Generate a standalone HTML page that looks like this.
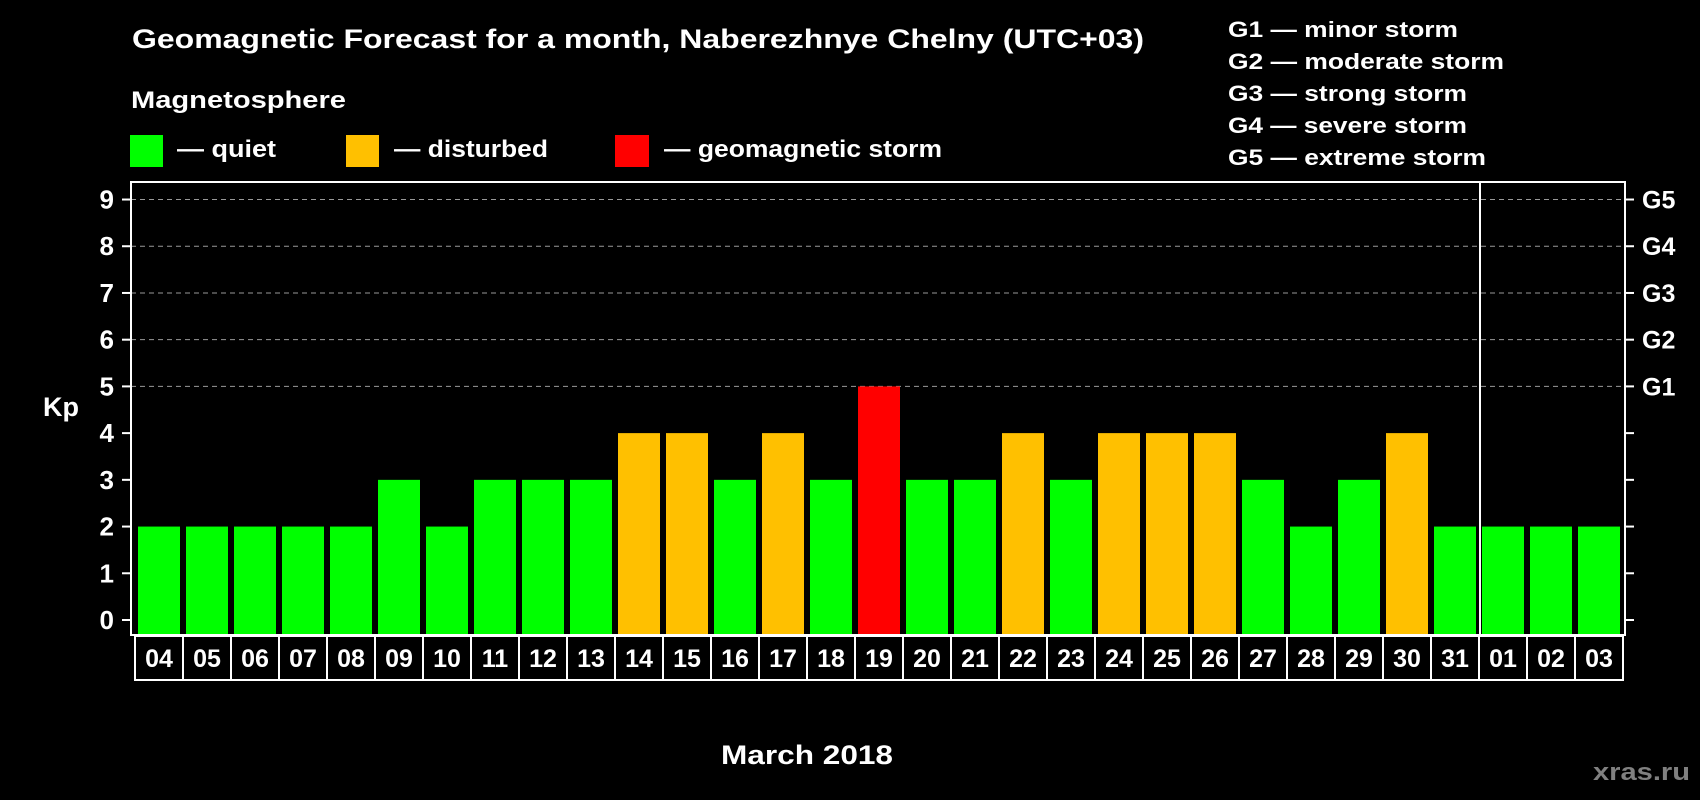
<!DOCTYPE html>
<html><head><meta charset="utf-8"><style>
html,body{margin:0;padding:0;background:#000;}
svg{display:block;font-family:"Liberation Sans",Arial,sans-serif;font-weight:bold;}
</style></head><body>
<svg id="chart" width="1700" height="800" viewBox="0 0 1700 800" xmlns="http://www.w3.org/2000/svg">
<rect x="0" y="0" width="1700" height="800" fill="#000"/>
<text x="132" y="48" fill="#fff" font-size="27" textLength="1012" lengthAdjust="spacingAndGlyphs">Geomagnetic Forecast for a month, Naberezhnye Chelny (UTC+03)</text>
<text x="131" y="108" fill="#fff" font-size="24" textLength="215" lengthAdjust="spacingAndGlyphs">Magnetosphere</text>
<g>
<rect x="130" y="135" width="33" height="32" fill="#00ff00"/>
<text x="177" y="157" fill="#fff" font-size="24" textLength="99" lengthAdjust="spacingAndGlyphs">— quiet</text></g>
<g>
<rect x="346" y="135" width="33" height="32" fill="#ffc000"/>
<text x="394" y="157" fill="#fff" font-size="24" textLength="154" lengthAdjust="spacingAndGlyphs">— disturbed</text></g>
<g>
<rect x="615" y="135" width="34" height="32" fill="#ff0000"/>
<text x="664" y="157" fill="#fff" font-size="24" textLength="278" lengthAdjust="spacingAndGlyphs">— geomagnetic storm</text></g>
<g fill="#fff" font-size="22">
<text x="1228" y="37" textLength="230" lengthAdjust="spacingAndGlyphs">G1 — minor storm</text>
<text x="1228" y="69" textLength="276" lengthAdjust="spacingAndGlyphs">G2 — moderate storm</text>
<text x="1228" y="101" textLength="239" lengthAdjust="spacingAndGlyphs">G3 — strong storm</text>
<text x="1228" y="133" textLength="239" lengthAdjust="spacingAndGlyphs">G4 — severe storm</text>
<text x="1228" y="165" textLength="258" lengthAdjust="spacingAndGlyphs">G5 — extreme storm</text>
</g>
<text x="43" y="416" fill="#fff" font-size="27">Kp</text>
<text x="721" y="764" fill="#fff" font-size="27" textLength="172" lengthAdjust="spacingAndGlyphs">March 2018</text>
<text x="1593" y="780" fill="#808080" font-size="24" textLength="97" lengthAdjust="spacingAndGlyphs">xras.ru</text>
<g id="grid"></g><g id="bars"></g><g id="axes"></g>
</svg>
<script>
const days = ["04","05","06","07","08","09","10","11","12","13","14","15","16","17","18","19","20","21","22","23","24","25","26","27","28","29","30","31","01","02","03"];
const kpValues = [2,2,2,2,2,3,2,3,3,3,4,4,3,4,3,5,3,3,4,3,4,4,4,3,2,3,4,2,2,2,2];
const yTicks = [0,1,2,3,4,5,6,7,8,9];
const gLabels = ["G1","G2","G3","G4","G5"];
const gLevels = [5,6,7,8,9];
const monthBreakIndex = 28;

const NS = "http://www.w3.org/2000/svg";
const plotL = 131, plotR = 1625, plotT = 182, plotB = 635;
const y = v => 620 - v * 46.72;
const xCell = i => 135 + i * 48;
function mk(tag, attrs, parent) {
  const e = document.createElementNS(NS, tag);
  for (const k in attrs) e.setAttribute(k, attrs[k]);
  parent.appendChild(e);
  return e;
}
const grid = document.getElementById("grid"), bars = document.getElementById("bars"), axes = document.getElementById("axes");
gLevels.forEach((lv, i) => {
  const l = mk("line", {x1: plotL, x2: plotR, y1: y(lv), y2: y(lv), stroke: "#999", "stroke-width": 1, "stroke-dasharray": "5,4"}, grid);
  
  
  const t = mk("text", {x: 1642, y: y(lv) + 9, fill: "#fff", "font-size": 25}, axes);
  t.textContent = gLabels[i];
  
  
});
kpValues.forEach((v, i) => {
  const color = v >= 5 ? "#ff0000" : (v >= 4 ? "#ffc000" : "#00ff00");
  const r = mk("rect", {x: xCell(i) + 3, y: y(v), width: 42, height: plotB - y(v), fill: color}, bars);
  
  
  const t = mk("text", {x: xCell(i) + 24, y: 667, fill: "#fff", "font-size": 25, "text-anchor": "middle"}, axes);
  t.textContent = days[i];
  
  
});
yTicks.forEach(v => {
  const a = mk("line", {x1: 122, x2: plotL, y1: y(v), y2: y(v), stroke: "#fff", "stroke-width": 2}, axes);
  
  
  const b = mk("line", {x1: plotR, x2: 1634, y1: y(v), y2: y(v), stroke: "#fff", "stroke-width": 2}, axes);
  
  
  const t = mk("text", {x: 114, y: y(v) + 9, fill: "#fff", "font-size": 26, "text-anchor": "end"}, axes);
  t.textContent = v;
  
  
});
const frame = mk("rect", {x: plotL, y: plotT, width: plotR - plotL, height: plotB - plotT, fill: "none", stroke: "#fff", "stroke-width": 2}, axes);


const div = mk("line", {x1: xCell(monthBreakIndex) + 1, x2: xCell(monthBreakIndex) + 1, y1: plotT, y2: plotB, stroke: "#fff", "stroke-width": 2}, axes);


const cellBox = mk("rect", {x: xCell(0), y: plotB + 1, width: days.length * 48, height: 44, fill: "none", stroke: "#fff", "stroke-width": 2}, axes);


for (let i = 1; i < days.length; i++) {
  const l = mk("line", {x1: xCell(i), x2: xCell(i), y1: plotB, y2: plotB + 45, stroke: "#fff", "stroke-width": 2}, axes);
  
  
}
</script>
</body></html>
